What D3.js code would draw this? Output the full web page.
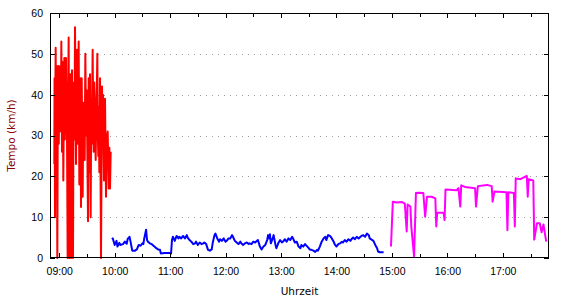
<!DOCTYPE html>
<html>
<head>
<meta charset="utf-8">
<script src="https://cdn.jsdelivr.net/npm/d3@7"></script>
<style>
  body { margin: 0; background: #fff; }
  svg { display: block; font-family: "DejaVu Sans", Verdana, sans-serif; }
</style>
</head>
<body>
<div id="chart"></div>
<script>
const width = 570, height = 300;
const margin = {top: 13, right: 21, bottom: 42, left: 50};

// [Uhrzeit, Tempo km/h]
const redTrack = [
  ["08:54:40", 23], ["08:54:55", 44], ["08:55:10", 27], ["08:55:25", 10], ["08:55:45", 41],
  ["08:56:08", 51.5], ["08:56:35", 30], ["08:57:13", 47], ["08:57:56", 0], ["08:58:25", 36],
  ["08:59:01", 47], ["08:59:30", 28], ["09:00:06", 40], ["09:00:40", 33], ["09:01:11", 47],
  ["09:01:45", 31], ["09:02:16", 53], ["09:02:59", 26], ["09:03:20", 42], ["09:03:43", 48],
  ["09:04:26", 19], ["09:05:00", 38], ["09:05:31", 49], ["09:06:05", 29], ["09:06:36", 40],
  ["09:07:19", 49], ["09:07:50", 35], ["09:08:24", 30], ["09:09:07", 0], ["09:09:40", 41],
  ["09:10:12", 54], ["09:10:56", 0], ["09:11:30", 37], ["09:12:01", 45], ["09:12:44", 0],
  ["09:13:15", 33], ["09:13:49", 46], ["09:14:54", 0], ["09:15:25", 38], ["09:15:59", 43],
  ["09:16:30", 29], ["09:17:04", 56.5], ["09:18:09", 23], ["09:18:40", 40], ["09:19:14", 51],
  ["09:20:19", 28], ["09:20:40", 44], ["09:21:02", 53], ["09:21:45", 18], ["09:22:15", 36],
  ["09:22:50", 44], ["09:23:33", 12.5], ["09:24:17", 44], ["09:24:50", 31], ["09:25:22", 15],
  ["09:25:55", 34], ["09:26:27", 38], ["09:27:00", 27], ["09:27:32", 24], ["09:28:15", 50],
  ["09:28:45", 37], ["09:29:20", 30], ["09:29:50", 41], ["09:30:25", 26], ["09:31:08", 9],
  ["09:31:51", 44], ["09:32:35", 21], ["09:33:18", 45], ["09:34:01", 10], ["09:34:35", 36],
  ["09:35:06", 28], ["09:35:40", 40], ["09:36:11", 51], ["09:36:45", 33], ["09:37:16", 26],
  ["09:37:50", 43], ["09:38:21", 39], ["09:38:55", 30], ["09:39:26", 24], ["09:40:00", 35],
  ["09:40:31", 39], ["09:41:14", 50], ["09:41:45", 30], ["09:42:19", 25], ["09:42:50", 37],
  ["09:43:24", 21], ["09:44:08", 44], ["09:45:12", 0], ["09:46:17", 42], ["09:46:50", 30],
  ["09:47:22", 40], ["09:48:27", 19], ["09:49:00", 32], ["09:49:32", 39], ["09:50:37", 15],
  ["09:51:21", 29], ["09:52:26", 31], ["09:53:30", 17], ["09:54:14", 27], ["09:54:57", 17],
  ["09:55:40", 26]
];

const blueTrack = [
  ["09:57", 4.6], ["09:58", 4.8], ["10:00", 3.2], ["10:02", 4.2], ["10:03", 2.8], ["10:05", 3.7],
  ["10:06", 3.2], ["10:09", 3.4], ["10:11", 4.0], ["10:13", 3.5], ["10:14", 4.6], ["10:16", 5.2],
  ["10:17", 4.2], ["10:19", 1.8], ["10:22", 1.8], ["10:24", 2.1], ["10:26", 3.2], ["10:28", 3.0],
  ["10:30", 3.6], ["10:31", 3.4], ["10:32", 4.8], ["10:34", 6.9], ["10:35", 4.4], ["10:36", 4.0],
  ["10:38", 3.6], ["10:40", 3.4], ["10:41", 3.2], ["10:43", 2.8], ["10:45", 2.4], ["10:47", 2.1],
  ["10:49", 2.0], ["10:50", 1.1], ["10:54", 1.2], ["11:00", 1.2], ["11:01", 1.1], ["11:02", 4.4],
  ["11:03", 5.2], ["11:05", 4.2], ["11:07", 5.4], ["11:09", 4.8], ["11:10", 5.2], ["11:12", 4.8],
  ["11:14", 5.4], ["11:16", 4.8], ["11:18", 5.6], ["11:19", 5.0], ["11:21", 4.4], ["11:23", 4.0],
  ["11:25", 3.4], ["11:27", 3.6], ["11:28", 4.0], ["11:30", 3.2], ["11:32", 3.8], ["11:34", 3.4],
  ["11:36", 3.6], ["11:37", 3.8], ["11:39", 3.4], ["11:41", 2.0], ["11:43", 1.8], ["11:45", 2.1],
  ["11:46", 3.6], ["11:48", 5.6], ["11:49", 6.0], ["11:51", 4.8], ["11:53", 4.0], ["11:54", 4.6],
  ["11:56", 4.2], ["11:58", 4.8], ["12:00", 4.0], ["12:02", 4.4], ["12:03", 4.8], ["12:05", 4.8],
  ["12:07", 5.6], ["12:08", 5.2], ["12:10", 4.2], ["12:12", 3.8], ["12:14", 3.4], ["12:16", 4.0],
  ["12:17", 3.6], ["12:19", 3.2], ["12:21", 3.6], ["12:23", 3.8], ["12:25", 3.4], ["12:26", 3.6],
  ["12:28", 3.4], ["12:30", 4.0], ["12:32", 3.8], ["12:34", 4.2], ["12:35", 4.4], ["12:37", 2.9],
  ["12:39", 2.1], ["12:41", 2.8], ["12:43", 3.2], ["12:45", 4.4], ["12:46", 5.6], ["12:47", 4.8],
  ["12:48", 5.8], ["12:49", 3.6], ["12:51", 4.8], ["12:52", 5.6], ["12:54", 3.2], ["12:55", 2.4],
  ["12:57", 3.6], ["12:59", 4.4], ["13:01", 3.8], ["13:03", 4.2], ["13:04", 4.6], ["13:06", 4.0],
  ["13:08", 4.8], ["13:10", 4.4], ["13:12", 5.2], ["13:13", 4.8], ["13:15", 3.8], ["13:17", 4.0],
  ["13:19", 2.8], ["13:21", 2.4], ["13:22", 3.2], ["13:24", 2.8], ["13:26", 3.4], ["13:28", 2.9],
  ["13:30", 2.4], ["13:31", 2.1], ["13:33", 2.0], ["13:35", 1.8], ["13:37", 1.5], ["13:39", 2.0],
  ["13:40", 1.8], ["13:42", 2.8], ["13:44", 4.0], ["13:46", 4.8], ["13:48", 5.2], ["13:49", 4.4],
  ["13:51", 5.6], ["13:53", 5.4], ["13:55", 4.8], ["13:57", 4.0], ["13:58", 3.4], ["14:00", 2.8],
  ["14:02", 3.4], ["14:04", 3.6], ["14:06", 4.0], ["14:07", 3.8], ["14:09", 4.4], ["14:11", 4.0],
  ["14:13", 4.6], ["14:15", 4.2], ["14:17", 4.8], ["14:18", 5.0], ["14:20", 4.6], ["14:22", 5.2],
  ["14:24", 4.8], ["14:26", 5.2], ["14:27", 5.4], ["14:29", 5.6], ["14:31", 5.2], ["14:33", 6.0],
  ["14:35", 5.6], ["14:36", 4.8], ["14:40", 4.2], ["14:42", 3.2], ["14:44", 2.4], ["14:45", 1.6],
  ["14:47", 1.4], ["14:51", 1.4]
];

const magentaTrack = [
  ["14:59", 2.8], ["15:01", 13.8], ["15:05", 13.6], ["15:11", 13.7], ["15:14", 13.3], ["15:16", 6.5],
  ["15:17", 13.1], ["15:20", 12.6], ["15:21", 7.7], ["15:24", 0.3], ["15:26", 15.9], ["15:29", 16.0],
  ["15:34", 15.9], ["15:36", 10.1], ["15:38", 15.0], ["15:43", 15.0], ["15:47", 14.6], ["15:48", 7.7],
  ["15:49", 11.1], ["15:56", 11.1], ["15:57", 9.3], ["15:58", 16.8], ["16:10", 16.6], ["16:12", 17.1],
  ["16:14", 12.6], ["16:15", 17.8], ["16:19", 17.4], ["16:30", 17.1], ["16:31", 12.6], ["16:33", 17.6],
  ["16:43", 17.9], ["16:48", 17.6], ["16:49", 13.8], ["16:51", 16.3], ["17:04", 16.1], ["17:05", 6.8],
  ["17:06", 16.1], ["17:12", 15.9], ["17:13", 7.7], ["17:14", 19.5], ["17:19", 19.3], ["17:26", 20.1],
  ["17:27", 15.0], ["17:28", 19.3], ["17:33", 19.0], ["17:34", 4.5], ["17:37", 8.5], ["17:40", 8.5],
  ["17:42", 6.3], ["17:44", 8.2], ["17:47", 4.0]
];

const timeRange = ["08:50", "17:50"];
const speedRange = [0, 60];
const speedTicks = [0, 10, 20, 30, 40, 50, 60];
const xLabel = "Uhrzeit", yLabel = "Tempo (km/h)";

const parseHM = d3.timeParse("%H:%M"), parseHMS = d3.timeParse("%H:%M:%S");
const parseTime = s => s.length > 5 ? parseHMS(s) : parseHM(s);

const x = d3.scaleTime()
  .domain(timeRange.map(parseTime))
  .range([margin.left, width - margin.right]);
const y = d3.scaleLinear()
  .domain(speedRange)
  .range([height - margin.bottom, margin.top]);

const svg = d3.select("#chart").append("svg")
  .attr("width", width)
  .attr("height", height);

// grid
svg.append("g")
  .selectAll("line")
  .data(speedTicks.filter(d => d > 0 && d < 60))
  .join("line")
  .attr("x1", margin.left).attr("x2", width - margin.right)
  .attr("y1", d => Math.round(y(d)) + 0.5).attr("y2", d => Math.round(y(d)) + 0.5)
  .attr("stroke", "#a0a0a0")
  .attr("stroke-dasharray", "1,5");

// data
const line = d3.line()
  .x(d => x(parseTime(d[0])))
  .y(d => y(d[1]));

[[redTrack, "#ff0000"], [blueTrack, "#0000ff"], [magentaTrack, "#ff00ff"]].forEach(([track, col]) => {
  svg.append("path")
    .datum(track)
    .attr("d", line)
    .attr("fill", "none")
    .attr("stroke", col)
    .attr("stroke-width", 2)
    .attr("stroke-linejoin", "round");
});

// axes
const hours = d3.timeHour.every(1).range(parseTime("09:00"), parseTime("17:01"));
const halfHours = d3.timeMinute.every(30).range(parseTime("08:50"), parseTime("17:50"))
  .filter(d => d.getMinutes() === 30);
const fmt = d3.timeFormat("%H:%M");
const bottom = height - margin.bottom, right = width - margin.right;

function styleAxis(g) {
  g.select(".domain").remove();
  g.selectAll("line").attr("stroke", "#000").attr("shape-rendering", "crispEdges");
  g.selectAll("text").attr("fill", "#000").attr("font-size", "10.5px");
}

svg.append("g")
  .attr("transform", `translate(0,${bottom})`)
  .call(d3.axisBottom(x).tickValues(hours).tickFormat(fmt).tickSizeInner(-5).tickSizeOuter(0).tickPadding(10))
  .call(styleAxis);
svg.append("g")
  .attr("transform", `translate(0,${bottom})`)
  .call(d3.axisBottom(x).tickValues(halfHours).tickFormat("").tickSizeInner(-4).tickSizeOuter(0))
  .call(styleAxis);
svg.append("g")
  .attr("transform", `translate(0,${margin.top})`)
  .call(d3.axisTop(x).tickValues(hours).tickFormat("").tickSizeInner(-5).tickSizeOuter(0))
  .call(styleAxis);
svg.append("g")
  .attr("transform", `translate(0,${margin.top})`)
  .call(d3.axisTop(x).tickValues(halfHours).tickFormat("").tickSizeInner(-4).tickSizeOuter(0))
  .call(styleAxis);
svg.append("g")
  .attr("transform", `translate(${margin.left},0)`)
  .call(d3.axisLeft(y).tickValues(speedTicks).tickSizeInner(-5).tickSizeOuter(0).tickPadding(7))
  .call(styleAxis);
svg.append("g")
  .attr("transform", `translate(${right},0)`)
  .call(d3.axisRight(y).tickValues(speedTicks).tickFormat("").tickSizeInner(-5).tickSizeOuter(0))
  .call(styleAxis);

// frame
svg.append("rect")
  .attr("x", margin.left + 0.5).attr("y", margin.top + 0.5)
  .attr("width", right - margin.left - 1).attr("height", bottom - margin.top - 1)
  .attr("fill", "none")
  .attr("stroke", "#000");

// labels
svg.append("text")
  .attr("x", (margin.left + right) / 2)
  .attr("y", 295)
  .attr("text-anchor", "middle")
  .attr("font-size", "10.5px")
  .attr("fill", "#000")
  .text(xLabel);

svg.append("text")
  .attr("transform", `translate(15,${(margin.top + bottom) / 2}) rotate(-90)`)
  .attr("text-anchor", "middle")
  .attr("font-size", "10.5px")
  .attr("fill", "#8b0000")
  .text(yLabel);
</script>
</body>
</html>
